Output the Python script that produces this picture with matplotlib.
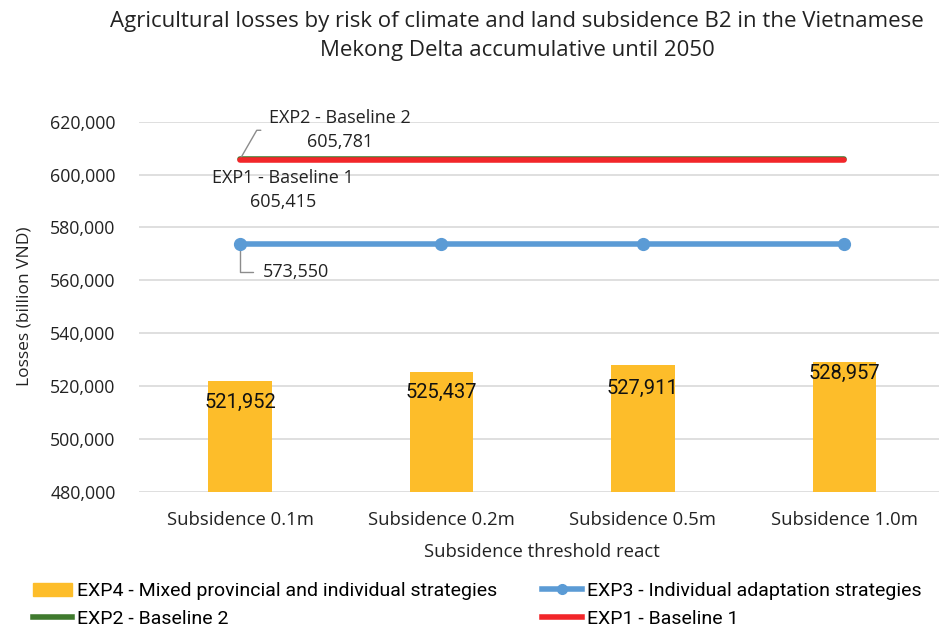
import matplotlib.pyplot as plt
import numpy as np
from matplotlib.ticker import FuncFormatter
from matplotlib.lines import Line2D
from matplotlib.patches import Patch

categories = ['Subsidence 0.1m', 'Subsidence 0.2m', 'Subsidence 0.5m', 'Subsidence 1.0m']
exp4_mixed = [521952, 525437, 527911, 528957]
exp3_individual = [573550, 573550, 573550, 573550]
exp2_baseline = [605781, 605781, 605781, 605781]
exp1_baseline = [605415, 605415, 605415, 605415]

# label offsets (pixels) of the bar value labels below the bar top
bar_label_dy = [-22, -21, -23, -11]

plt.rcParams['font.family'] = ['Open Sans', 'DejaVu Sans']
txt = '#222222'

fig = plt.figure(figsize=(9.39, 6.28), dpi=100)
ax = fig.add_axes([139.3 / 939, 136.3 / 628, (945 - 139.3) / 939, 370 / 628])

x = np.arange(len(categories))

ax.bar(x, exp4_mixed, width=0.315, color='#FDBD2A', zorder=2)
ax.plot(x, exp2_baseline, color='#3F7A2E', lw=4, zorder=3, solid_capstyle='round')
ax.plot(x, exp1_baseline, color='#F2262A', lw=4, zorder=4, solid_capstyle='round')
ax.plot(x, exp3_individual, color='#5B9BD5', lw=4, marker='o', ms=8.5, zorder=4)

ax.set_xlim(-0.5, 3.5)
ax.set_ylim(480000, 620000)
ax.set_yticks(np.arange(480000, 620001, 20000))
ax.yaxis.set_major_formatter(FuncFormatter(lambda v, p: f'{int(v):,}'))
ax.grid(axis='y', color='#D9D9D9', lw=1.2, zorder=0)
for s in ax.spines.values():
    s.set_visible(False)
ax.tick_params(axis='y', length=0, labelsize=12.8, colors=txt, pad=17)
ax.tick_params(axis='x', length=0, labelsize=13.3, colors=txt, pad=14)
ax.set_xticks(x)
ax.set_xticklabels(categories)
ax.set_xlabel('Subsidence threshold react', fontsize=13.3, color=txt, labelpad=10)
ax.set_ylabel('Losses (billion VND)', fontsize=12.5, color=txt, labelpad=13)

# bar value labels
for i, v in enumerate(exp4_mixed):
    ax.annotate(f'{v:,}', (x[i], v), xytext=(0, bar_label_dy[i]), textcoords='offset pixels',
                ha='center', va='center', fontsize=14.5, color='#111111',
                family=['Roboto', 'DejaVu Sans'], zorder=5)

# line labels
ax.annotate(f'EXP2 - Baseline 2\n{exp2_baseline[0]:,}', (x[0], exp2_baseline[0]),
            xytext=(100, 29), textcoords='offset pixels', ha='center', va='center',
            multialignment='center', fontsize=13, color=txt, linespacing=1.45,
            arrowprops=dict(arrowstyle='-', color='#8C8C8C', lw=1, relpos=(0, 0.5),
                            shrinkA=4, shrinkB=0,
                            connectionstyle='angle,angleA=0,angleB=60,rad=0'))
ax.annotate(f'EXP1 - Baseline 1\n{exp1_baseline[0]:,}', (x[0], exp1_baseline[0]),
            xytext=(43, -30), textcoords='offset pixels', ha='center', va='center',
            multialignment='center', fontsize=13, color=txt, linespacing=1.45)
ax.annotate(f'{exp3_individual[0]:,}', (x[0], exp3_individual[0]),
            xytext=(56, -28), textcoords='offset pixels', ha='center', va='center',
            fontsize=13, color=txt,
            arrowprops=dict(arrowstyle='-', color='#8C8C8C', lw=1, relpos=(0, 0.5),
                            shrinkA=5, shrinkB=0,
                            connectionstyle='angle,angleA=0,angleB=90,rad=0'))

fig.text(517 / 939, 1 - 36 / 628,
         'Agricultural losses by risk of climate and land subsidence B2 in the Vietnamese\n'
         'Mekong Delta accumulative until 2050',
         ha='center', va='center', fontsize=16, color=txt, linespacing=1.55)

handles = [
    Patch(color='#FDBD2A', label='EXP4 - Mixed provincial and individual strategies'),
    Line2D([], [], color='#3F7A2E', lw=4, label='EXP2 - Baseline 2'),
    Line2D([], [], color='#5B9BD5', lw=4, marker='o', ms=7, label='EXP3 - Individual adaptation strategies'),
    Line2D([], [], color='#F2262A', lw=4, label='EXP1 - Baseline 1'),
]
fig.legend(handles=handles, ncol=2, loc='center left', bbox_to_anchor=(15 / 939, 1 - 605 / 628),
           frameon=False, handlelength=2.05, handletextpad=0.25,
           columnspacing=2.3, labelspacing=0.5,
           prop={'family': ['Roboto', 'DejaVu Sans'], 'size': 14})

fig.savefig('out.png', dpi=100)
